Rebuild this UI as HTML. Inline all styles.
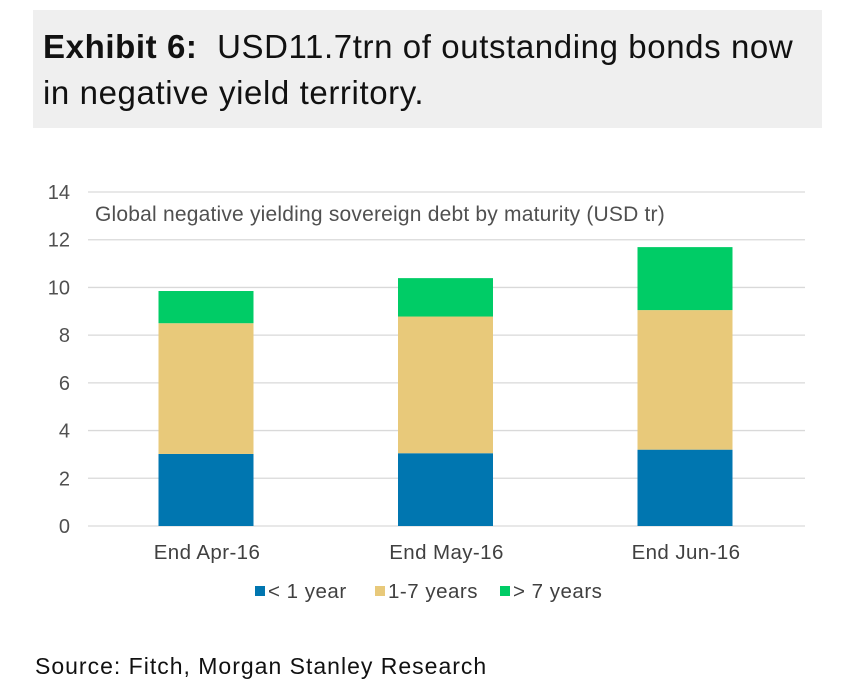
<!DOCTYPE html>
<html><head><meta charset="utf-8"><style>
body{margin:0;width:864px;height:698px;background:#fff;overflow:hidden;font-family:"Liberation Sans",sans-serif}
#title{position:absolute;left:33px;top:10px;width:789px;height:118px;background:#efefef}
#title div{position:absolute;left:10px;top:14px;font-size:33px;line-height:46px;color:#111;letter-spacing:0.6px;white-space:nowrap}
#src{position:absolute;left:35px;top:653px;font-size:23px;color:#111;letter-spacing:1.0px}
svg{position:absolute;left:0;top:0}
</style></head><body>
<div id="title"><div><b>Exhibit 6:</b>&nbsp; USD11.7trn of outstanding bonds now<br>in negative yield territory.</div></div>
<svg id="chart" width="864" height="698"></svg>
<div id="src">Source: Fitch, Morgan Stanley Research</div>
<script>
const categories=["End Apr-16","End May-16","End Jun-16"];
const lt1=[3.02,3.05,3.2];
const y1to7=[5.48,5.73,5.85];
const gt7=[1.35,1.61,2.64];
const yTicks=[0,2,4,6,8,10,12,14];
const svg=document.getElementById('chart');
const NS="http://www.w3.org/2000/svg";
const y0=526,y14=192,xL=88,xR=805;
const ys=v=>y0-(y0-y14)*v/14;
const xs=i=>206+i*239.5;
function mk(t,a){const e=document.createElementNS(NS,t);for(const k in a)e.setAttribute(k,a[k]);svg.appendChild(e);return e;}
yTicks.forEach(v=>{
 const l=mk('line',{x1:xL,x2:xR,y1:ys(v),y2:ys(v),stroke:'#d9d9d9','stroke-width':1.3});
 
 
 const t=mk('text',{x:70,y:ys(v)+7,'text-anchor':'end','font-size':20,fill:'#505050'});
 t.textContent=v;
 
 
});
const cap=mk('text',{x:95,y:221,'font-size':21,fill:'#505050','letter-spacing':0.2});
cap.textContent="Global negative yielding sovereign debt by maturity (USD tr)";


const series=[[lt1,'#0076b0','lt1'],[y1to7,'#e8c97a','1to7'],[gt7,'#00cc66','gt7']];
categories.forEach((c,i)=>{
 let base=0;
 series.forEach(([arr,col,nm])=>{
  const r=mk('rect',{x:xs(i)-47.5,width:95,y:ys(base+arr[i]),height:ys(base)-ys(base+arr[i]),fill:col});
  
  
  base+=arr[i];
 });
 const t=mk('text',{x:xs(i)+1,y:559,'text-anchor':'middle','font-size':20.5,fill:'#404040','letter-spacing':0.4});
 t.textContent=c;
 
 
});
const leg=[['< 1 year','#0076b0',255],['1-7 years','#e8c97a',375],['> 7 years','#00cc66',500]];
leg.forEach(([n,col,x])=>{
 const r=mk('rect',{x:x,y:586,width:10,height:10,fill:col});
 
 
 const t=mk('text',{x:x+13,y:598,'font-size':20.5,fill:'#404040','letter-spacing':0.5});
 t.textContent=n;
 
 
});
</script>
</body></html>
